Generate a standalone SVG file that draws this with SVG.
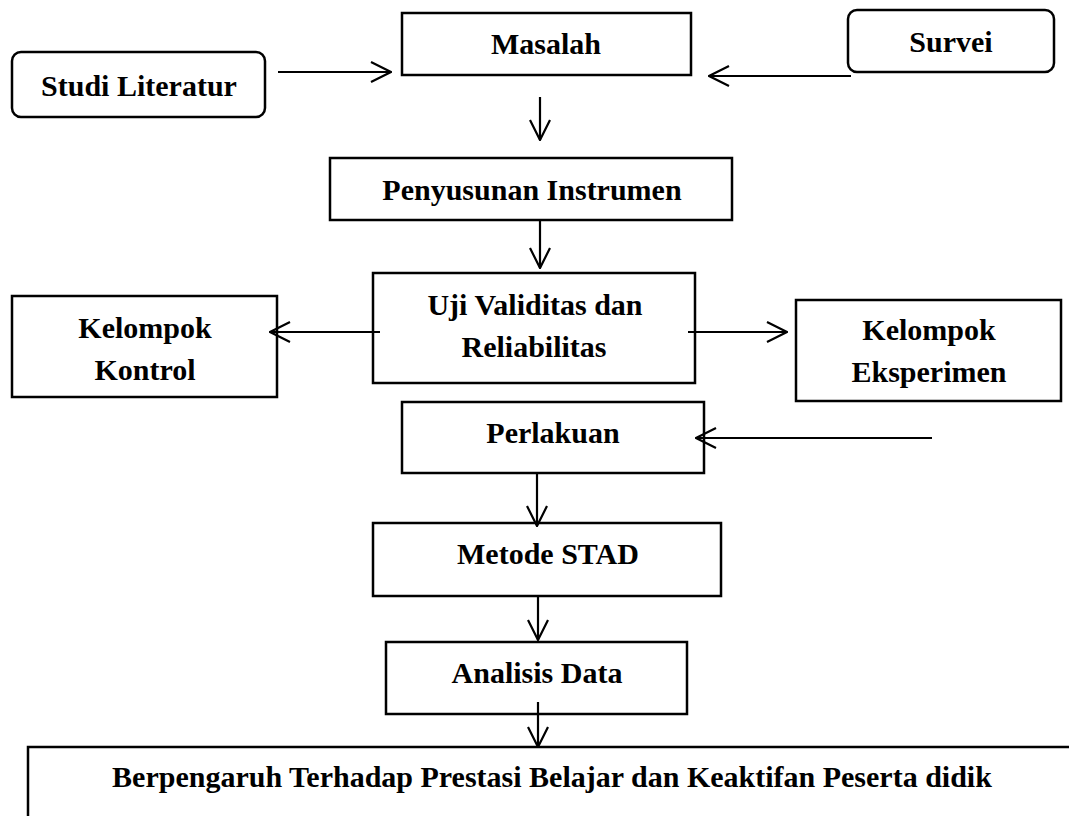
<svg xmlns="http://www.w3.org/2000/svg" width="1069" height="816" viewBox="0 0 1069 816">
<style>
.box{fill:#fff;stroke:#000;stroke-width:2.5}
.lbl{font-family:"Liberation Serif","Times New Roman",serif;font-weight:bold;font-size:30px;fill:#000;text-anchor:middle}
.con{fill:none;stroke:#000;stroke-width:2.2}
</style>
<defs>
<marker id="arr" viewBox="0 0 22 22" refX="21" refY="11" markerWidth="22" markerHeight="22" markerUnits="userSpaceOnUse" orient="auto">
<path d="M1,1 L21,11 L1,21" fill="none" stroke="#000" stroke-width="2.2"/>
</marker>
</defs>
<rect width="1069" height="816" fill="#fff"/>
<g id="studi"><rect class="box" x="12" y="52" width="253" height="65" rx="9"/><text class="lbl" x="139" y="96">Studi Literatur</text></g>
<g id="masalah"><rect class="box" x="402" y="13" width="289" height="62"/><text class="lbl" x="546" y="54">Masalah</text></g>
<g id="survei"><rect class="box" x="848" y="10" width="206" height="62" rx="9"/><text class="lbl" x="951" y="52">Survei</text></g>
<g id="penyusunan"><rect class="box" x="330" y="158" width="402" height="62"/><text class="lbl" x="532" y="200">Penyusunan Instrumen</text></g>
<g id="uji"><rect class="box" x="373" y="273" width="322" height="110"/><text class="lbl" x="535" y="315">Uji Validitas dan</text><text class="lbl" x="534" y="357">Reliabilitas</text></g>
<g id="kontrol"><rect class="box" x="12" y="296" width="265" height="101"/><text class="lbl" x="145" y="338">Kelompok</text><text class="lbl" x="145" y="380">Kontrol</text></g>
<g id="eksperimen"><rect class="box" x="796" y="300" width="265" height="101"/><text class="lbl" x="929" y="340">Kelompok</text><text class="lbl" x="929" y="382">Eksperimen</text></g>
<g id="perlakuan"><rect class="box" x="402" y="402" width="302" height="71"/><text class="lbl" x="553" y="443">Perlakuan</text></g>
<g id="metode"><rect class="box" x="373" y="523" width="348" height="73"/><text class="lbl" x="548" y="564">Metode STAD</text></g>
<g id="analisis"><rect class="box" x="386" y="642" width="301" height="72"/><text class="lbl" x="537" y="683">Analisis Data</text></g>
<g id="hasil"><rect class="box" x="28" y="747" width="1100" height="120"/><text class="lbl" x="552" y="787">Berpengaruh Terhadap Prestasi Belajar dan Keaktifan Peserta didik</text></g>
<g id="connectors">
<line class="con" x1="278" y1="72" x2="391" y2="72" marker-end="url(#arr)"/>
<line class="con" x1="851" y1="76" x2="709" y2="76" marker-end="url(#arr)"/>
<line class="con" x1="540" y1="97" x2="540" y2="140" marker-end="url(#arr)"/>
<line class="con" x1="540" y1="220" x2="540" y2="268" marker-end="url(#arr)"/>
<line class="con" x1="380" y1="332" x2="270" y2="332" marker-end="url(#arr)"/>
<line class="con" x1="688" y1="332" x2="787" y2="332" marker-end="url(#arr)"/>
<line class="con" x1="932" y1="438" x2="696" y2="438" marker-end="url(#arr)"/>
<line class="con" x1="537" y1="473" x2="537" y2="526" marker-end="url(#arr)"/>
<line class="con" x1="538" y1="596" x2="538" y2="640" marker-end="url(#arr)"/>
<line class="con" x1="538" y1="702" x2="538" y2="747" marker-end="url(#arr)"/>
</g>
</svg>
